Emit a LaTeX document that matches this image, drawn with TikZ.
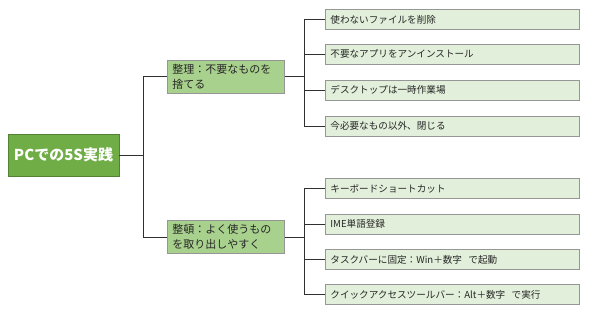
\documentclass[tikz,border=0pt]{standalone}
\usepackage{fontspec}
\setmainfont{Noto Sans CJK JP}
\definecolor{rootfill}{HTML}{70AD47}
\definecolor{rootdraw}{HTML}{548235}
\definecolor{midfill}{HTML}{A9D18E}
\definecolor{leaffill}{HTML}{E2EFDA}
\definecolor{boxdraw}{HTML}{969696}
\definecolor{linec}{HTML}{303030}
\definecolor{txt}{HTML}{262626}
\begin{document}
\begin{tikzpicture}[x=1pt,y=-1pt,
  rootbox/.style={draw=rootdraw,line width=0.8pt,fill=rootfill,text=white,font=\fontsize{15}{18}\selectfont\bfseries,
    minimum width=111pt,minimum height=42pt,inner sep=0pt,anchor=center},
  midbox/.style={draw=boxdraw,line width=0.8pt,fill=midfill,text=txt,font=\fontsize{11}{15}\selectfont,
    minimum width=117pt,minimum height=33pt,inner xsep=5pt,inner ysep=0pt,align=left,text width=107pt,anchor=west},
  leafbox/.style={draw=boxdraw,line width=0.8pt,fill=leaffill,text=txt,font=\fontsize{9.6}{12}\selectfont,
    minimum width=254pt,minimum height=20pt,inner xsep=5pt,inner ysep=0pt,text width=244pt,align=left,anchor=west},
  conn/.style={draw=linec,line width=0.9pt}]
\useasboundingbox (0,0) rectangle (594,310);
\node[rootbox] (root) at (63.5,155) {PCでの5S実践};
\node[midbox] (m1) at (167,76.5) {整理：不要なものを\\捨てる};
\node[midbox] (m2) at (167,237) {整頓：よく使うもの\\を取り出しやすく};
\node[leafbox] (a1) at (325,19.5) {使わないファイルを削除};
\node[leafbox] (a2) at (325,54) {不要なアプリをアンインストール};
\node[leafbox] (a3) at (325,90) {デスクトップは一時作業場};
\node[leafbox] (a4) at (325,126) {今必要なもの以外、閉じる};
\node[leafbox] (b1) at (325,188.5) {キーボードショートカット};
\node[leafbox] (b2) at (325,224) {IME単語登録};
\node[leafbox] (b3) at (325,259.5) {タスクバーに固定：Win＋数字\ \ で起動};
\node[leafbox] (b4) at (325,294.5) {クイックアクセスツールバー：Alt＋数字\ \ で実行};
\coordinate (t1) at (143,0);
\coordinate (t2) at (304.5,0);
\draw[conn] (root.east) -- (root.east -| t1);
\draw[conn] (m1.west) -- (m1.west -| t1) -- (m2.west -| t1) -- (m2.west);
\draw[conn] (m1.east) -- (m1.east -| t2);
\draw[conn] (m2.east) -- (m2.east -| t2);
\draw[conn] (a1.west) -- (a1.west -| t2) -- (a4.west -| t2) -- (a4.west);
\draw[conn] (a2.west) -- (a2.west -| t2);
\draw[conn] (a3.west) -- (a3.west -| t2);
\draw[conn] (b1.west) -- (b1.west -| t2) -- (b4.west -| t2) -- (b4.west);
\draw[conn] (b2.west) -- (b2.west -| t2);
\draw[conn] (b3.west) -- (b3.west -| t2);
\end{tikzpicture}
\end{document}
